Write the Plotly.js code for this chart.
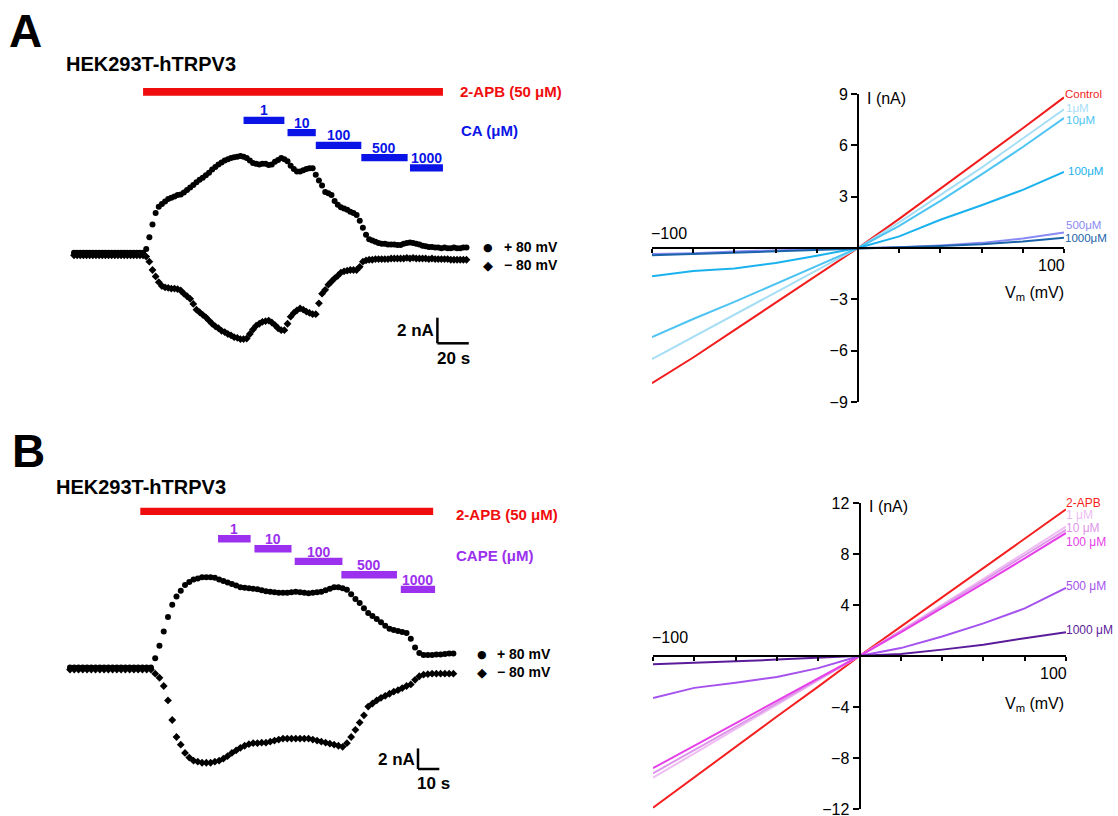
<!DOCTYPE html>
<html><head><meta charset="utf-8">
<script src="https://cdn.plot.ly/plotly-3.0.1.min.js"></script>
<style>body{margin:0;background:#fff}</style>
</head><body>
<div id="chart" style="width:1118px;height:816px"></div>
<script>
// ---------------- DATA ----------------
// Panel A time course (2 s per sample), current in nA
const a_pos80 = [0.1,0.1,0.1,0.1,0.1,0.1,0.1,0.1,0.1,0.1,0.1,0.1,0.1,0.1,0.1,0.1,0.1,0.1,0.1,0.1,0.1,0.1,
 0.1,0.4,1.3,2.3,3.2,3.7,3.9,4.1,4.3,4.4,4.5,4.6,4.65,4.8,5.0,5.2,5.4,5.6,5.8,5.95,6.15,6.35,6.6,6.8,7.0,7.15,7.3,7.4,
 7.5,7.55,7.6,7.65,7.6,7.5,7.3,7.1,7.05,7.0,7.05,7.05,6.95,7.0,7.2,7.35,7.5,7.4,7.25,6.9,6.65,6.45,6.45,6.55,6.65,6.7,6.7,
 6.2,5.75,5.35,4.85,4.75,4.6,4.15,3.85,3.65,3.55,3.45,3.3,3.2,3.05,2.6,2.05,1.5,1.15,1.05,0.95,0.85,0.8,0.8,0.75,0.75,0.75,
 0.7,0.7,0.8,0.85,0.9,0.85,0.8,0.75,0.65,0.6,0.55,0.55,0.5,0.5,0.45,0.5,0.45,0.45,0.5,0.45,0.45,0.5,0.5];
const a_neg80 = [-0.1,-0.1,-0.1,-0.1,-0.1,-0.1,-0.1,-0.1,-0.1,-0.1,-0.1,-0.1,-0.1,-0.1,-0.1,-0.1,-0.1,-0.1,-0.1,-0.1,-0.1,-0.1,
 -0.1,-0.2,-0.6,-1.25,-1.75,-2.2,-2.5,-2.6,-2.65,-2.7,-2.7,-2.75,-2.85,-3.1,-3.3,-3.5,-3.9,-4.35,-4.55,-4.75,-4.95,-5.2,-5.45,
 -5.65,-5.8,-6.0,-6.1,-6.25,-6.35,-6.5,-6.55,-6.65,-6.65,-6.6,-6.25,-5.9,-5.6,-5.45,-5.3,-5.25,-5.2,-5.35,-5.55,-5.8,-5.95,
 -5.95,-5.45,-4.9,-4.6,-4.4,-4.25,-4.35,-4.5,-4.6,-4.7,-4.7,-3.85,-3.1,-2.8,-2.4,-2.15,-1.9,-1.7,-1.45,-1.35,-1.3,-1.25,
 -1.25,-1.25,-1.0,-0.6,-0.5,-0.45,-0.45,-0.4,-0.4,-0.4,-0.4,-0.4,-0.35,-0.35,-0.35,-0.35,
 -0.35,-0.3,-0.35,-0.3,-0.35,-0.35,-0.35,-0.35,-0.4,-0.35,-0.4,-0.4,-0.4,-0.4,-0.4,-0.45,-0.45,-0.45,-0.45,-0.45,-0.45];
// Panel B time course (2 s per sample)
const b_pos80 = [0.1,0.1,0.1,0.1,0.1,0.1,0.1,0.1,0.1,0.1,0.1,0.1,0.1,0.1,0.1,0.1,0.1,0.1,0.1,0.1,
 1.0,2.2,3.6,5.0,6.2,7.0,7.55,8.1,8.4,8.65,8.75,8.85,8.85,8.85,8.8,8.65,8.5,8.35,8.2,8.05,
 7.9,7.85,7.8,7.75,7.7,7.6,7.5,7.45,7.4,7.35,7.35,7.35,7.4,7.45,7.4,7.35,7.3,7.35,7.4,7.45,
 7.6,7.75,7.9,7.9,7.8,7.65,7.2,6.75,6.35,5.85,5.4,5.1,4.8,4.5,4.15,3.85,3.75,3.65,3.55,3.45,
 2.9,2.05,1.5,1.3,1.3,1.3,1.35,1.35,1.4,1.45,1.45];
const b_neg80 = [-0.1,-0.1,-0.1,-0.1,-0.1,-0.1,-0.1,-0.1,-0.1,-0.1,-0.1,-0.1,-0.1,-0.1,-0.1,-0.1,-0.1,-0.1,-0.1,-0.1,
 -0.5,-0.9,-1.7,-3.1,-5.0,-6.65,-7.4,-8.2,-8.65,-8.95,-9.05,-9.15,-9.15,-9.15,-9.05,-8.95,-8.75,-8.5,-8.2,-7.95,
 -7.7,-7.5,-7.35,-7.25,-7.25,-7.2,-7.2,-7.1,-7.0,-6.9,-6.8,-6.8,-6.8,-6.8,-6.8,-6.8,-6.8,-6.9,-7.0,-7.1,
 -7.2,-7.3,-7.4,-7.5,-7.6,-7.25,-6.65,-5.95,-5.25,-4.55,-3.7,-3.4,-3.1,-2.85,-2.65,-2.45,-2.25,-2.1,-1.9,-1.7,
 -1.55,-1.1,-0.75,-0.6,-0.55,-0.5,-0.5,-0.5,-0.5,-0.5,-0.5];
const sampleStep = 2; // s

// Drug applications (s)
const apbA = [44, 235];
const caConc = ['1','10','100','500','1000'];
const caStart = [108, 136, 154, 183, 214];
const caEnd   = [134, 154, 183, 212.5, 235];
const apbB = [33, 170.5];
const capeConc = ['1','10','100','500','1000'];
const capeStart = [69.5, 86.6, 105.5, 127.4, 155.3];
const capeEnd   = [84.8, 104, 127.9, 153.5, 171.4];
const scaleA = [2, 20]; // nA, s
const scaleB = [2, 10];

// I-V curves
const vm = [-100,-80,-60,-40,-20,0,20,40,60,80,100];
const ivNamesA = ['Control','1μM','10μM','100μM','500μM','1000μM'];
const ivA = [
 [-7.9,-6.4,-4.8,-3.2,-1.6,0,1.7,3.45,5.2,7.0,8.8],
 [-6.5,-5.2,-3.9,-2.6,-1.3,0,1.5,3.1,4.7,6.4,8.1],
 [-5.2,-4.15,-3.15,-2.1,-1.05,0,1.3,2.75,4.3,5.9,7.6],
 [-1.65,-1.35,-1.2,-0.88,-0.45,0,0.68,1.65,2.5,3.4,4.45],
 [-0.35,-0.3,-0.2,-0.12,-0.05,0,0.05,0.15,0.3,0.55,0.9],
 [-0.43,-0.35,-0.25,-0.15,-0.08,0,0.05,0.12,0.22,0.38,0.6]];
const ivNamesB = ['2-APB','1 μM','10 μM','100 μM','500 μM','1000 μM'];
const ivB = [
 [-11.9,-9.5,-7.1,-4.75,-2.4,0,2.3,4.6,6.9,9.2,11.5],
 [-9.55,-7.65,-5.75,-3.85,-1.9,0,2.0,4.0,6.05,8.1,10.15],
 [-9.2,-7.4,-5.55,-3.7,-1.85,0,1.95,3.9,5.9,7.9,9.9],
 [-8.8,-7.05,-5.3,-3.5,-1.75,0,1.85,3.75,5.7,7.65,9.65],
 [-3.3,-2.5,-2.1,-1.65,-0.95,0,0.62,1.53,2.56,3.73,5.35],
 [-0.65,-0.55,-0.42,-0.28,-0.15,0,0.15,0.5,0.88,1.4,1.87]];

// ---------------- STYLE / LAYOUT ----------------
const W=1118, H=816;
const FONT='Liberation Sans, Arial, Helvetica, sans-serif';
const X=p=>p/W, Y=p=>1-p/H;
const colA=['#f21c1c','#a6def6','#4dc4f2','#1ab2ee','#8a8af5','#1c64aa'];
const colB=['#f51f1f','#eebcf2','#de96ea','#e641e8','#a552ee','#5b1b9a'];
const RED='#f00d0d', BLUE='#0a14e6', PURPLE='#9b30ee';

const mapA={ox:74, oy:254, sx:1.57, sy:12.8, box:[30,620,40,420]};
const mapB={ox:70, oy:668.5, sx:2.13, sy:10.3, box:[30,620,440,800]};
const tOf=(m,px)=>(px-m.ox)/m.sx, iOf=(m,py)=>(m.oy-py)/m.sy;
function leftAx(m){
  return [{domain:[X(m.box[0]),X(m.box[1])], range:[tOf(m,m.box[0]),tOf(m,m.box[1])], visible:false, fixedrange:true},
          {domain:[Y(m.box[3]),Y(m.box[2])], range:[iOf(m,m.box[3]),iOf(m,m.box[2])], visible:false, fixedrange:true}];
}
function ivAx(box, yr, ytv){
  const zeroPy = box[2] + (yr[1]/(yr[1]-yr[0]))*(box[3]-box[2]);
  const zeroPx = box[0] + 0.5*(box[1]-box[0]);
  const common={showline:true, linewidth:2, linecolor:'#000', ticks:'outside', tickwidth:2, tickcolor:'#000',
    showgrid:false, zeroline:false, fixedrange:true, ticklabeloverflow:'allow', tickfont:{family:FONT,size:16,color:'#000'}};
  return [Object.assign({}, common, {domain:[X(box[0]),X(box[1])], range:[-100,100], anchor:'free', position:Y(zeroPy),
            tickvals:vm, ticklen:4, showticklabels:false}),
          Object.assign({}, common, {domain:[Y(box[3]),Y(box[2])], range:yr, anchor:'free', position:X(zeroPx),
            tickvals:ytv, ticklen:6, side:'left'})];
}
const [xa3, ya3] = leftAx(mapA);
const [xa4, ya4] = leftAx(mapB);
xa3.anchor='y3'; ya3.anchor='x3'; xa4.anchor='y4'; ya4.anchor='x4';
const [xa1, ya1] = ivAx([652,1064,94,402],[-9,9],[-9,-6,-3,3,6,9]);
const [xa2, ya2] = ivAx([653,1066,503,809],[-12,12],[-12,-8,-4,4,8,12]);

const traces=[];
function tc(vals, sym, size, xa, ya){
  traces.push({type:'scatter', mode:'markers', x0:0, dx:sampleStep, y:vals, xaxis:xa, yaxis:ya,
    marker:{symbol:sym, size:size, color:'#000', line:{width:0}}, hoverinfo:'skip', cliponaxis:false});
}
tc(a_pos80,'circle',6,'x3','y3'); tc(a_neg80,'diamond',6,'x3','y3');
tc(b_pos80,'circle',6,'x4','y4'); tc(b_neg80,'diamond',6,'x4','y4');
ivA.forEach((s,i)=>traces.push({type:'scatter',mode:'lines',x:vm,y:s,xaxis:'x',yaxis:'y',name:ivNamesA[i],
  line:{color:colA[i],width:2}}));
ivB.forEach((s,i)=>traces.push({type:'scatter',mode:'lines',x:vm,y:s,xaxis:'x2',yaxis:'y2',name:ivNamesB[i],
  line:{color:colB[i],width:2}}));

const shapes=[], anns=[];
function ann(text, px, py, size, color, xanchor, extra){
  anns.push(Object.assign({xref:'paper', yref:'paper', x:X(px), y:Y(py), text:text, showarrow:false,
    xanchor:xanchor||'left', yanchor:'middle', font:{family:FONT, size:size, color:color||'#000'}, borderpad:0, borderwidth:0}, extra||{}));
}
function bar(xa, t0, t1, top, bot, color){
  shapes.push({type:'rect', xref:xa, yref:'paper', x0:t0, x1:t1, y0:Y(bot), y1:Y(top), fillcolor:color, line:{width:0}, layer:'above'});
}
// Panel A left
bar('x3', apbA[0], apbA[1], 88, 95.7, RED);
const caTop=[116.7,129,141.7,154,164.2];
caConc.forEach((c,i)=>{ bar('x3', caStart[i], caEnd[i], caTop[i], caTop[i]+7.2, BLUE);
  anns.push({xref:'x3', yref:'paper', x:(caStart[i]+caEnd[i])/2, y:Y(caTop[i]-6.5), text:'<b>'+c+'</b>', showarrow:false,
    xanchor:'center', yanchor:'middle', font:{family:FONT,size:14,color:BLUE}, borderpad:0, borderwidth:0}); });
// Panel B left
bar('x4', apbB[0], apbB[1], 507.7, 515, RED);
const capeTop=[535,545,557.7,571,585.7];
capeConc.forEach((c,i)=>{ bar('x4', capeStart[i], capeEnd[i], capeTop[i], capeTop[i]+7.4, PURPLE);
  anns.push({xref:'x4', yref:'paper', x:(capeStart[i]+capeEnd[i])/2, y:Y(capeTop[i]-6), text:'<b>'+c+'</b>', showarrow:false,
    xanchor:'center', yanchor:'middle', font:{family:FONT,size:14,color:PURPLE}, borderpad:0, borderwidth:0}); });

// scale bars
function scaleBar(xa, ya, m, cx, cy, sc){
  const t0=tOf(m,cx), i0=iOf(m,cy);
  shapes.push({type:'line', xref:xa, yref:ya, x0:t0, x1:t0, y0:i0, y1:i0+sc[0], line:{color:'#000',width:2.5}});
  shapes.push({type:'line', xref:xa, yref:ya, x0:t0, x1:t0+sc[1], y0:i0, y1:i0, line:{color:'#000',width:2.5}});
}
scaleBar('x3','y3',mapA,437.4,343.3,scaleA);
scaleBar('x4','y4',mapB,418,769,scaleB);

const GL={family:'DejaVu Sans',size:11,color:'#000'}, GD={family:'DejaVu Sans',size:13,color:'#000'};
// texts left
ann('<b>A</b>', 9, 31, 46);
ann('<b>HEK293T-hTRPV3</b>', 66, 64, 20);
ann('<b>2-APB (50 μM)</b>', 460, 91, 15, RED);
ann('<b>CA (μM)</b>', 461, 130, 15, BLUE);
ann('●', 488, 247, 11, '#000', 'center', {font:GL});
ann('◆', 488, 265.5, 13, '#000', 'center', {font:GD});
ann('<b>+ 80 mV</b>', 504, 247, 14);
ann('<b>− 80 mV</b>', 504, 264.5, 14);
ann('<b>'+scaleA[0]+' nA</b>', 434, 330, 17, '#000', 'right');
ann('<b>'+scaleA[1]+' s</b>', 453, 358, 17, '#000', 'center');

ann('<b>B</b>', 12, 451, 46);
ann('<b>HEK293T-hTRPV3</b>', 56, 487, 20);
ann('<b>2-APB (50 μM)</b>', 455.5, 514, 15, RED);
ann('<b>CAPE (μM)</b>', 456, 555, 15, PURPLE);
ann('●', 482, 654.3, 11, '#000', 'center', {font:GL});
ann('◆', 482, 672.3, 13, '#000', 'center', {font:GD});
ann('<b>+ 80 mV</b>', 497, 654, 14);
ann('<b>− 80 mV</b>', 497, 672, 14);
ann('<b>'+scaleB[0]+' nA</b>', 415, 759.5, 17, '#000', 'right');
ann('<b>'+scaleB[1]+' s</b>', 433, 783, 17, '#000', 'center');

// IV texts
ann('I (nA)', 867, 98, 16);
ann('−100', 651, 233, 16);
ann('100', 1065, 266, 16, '#000', 'right');
ann('V<sub>m</sub> (mV)', 1064, 293, 16, '#000', 'right');
const labYA=[94,108,120,171,225,238], labXA=[1065,1066,1066,1068,1066,1065];
ivNamesA.forEach((n,i)=>ann(n, labXA[i], labYA[i], 11.5, colA[i]));
ann('I (nA)', 869, 506, 16);
ann('−100', 652, 637, 16);
ann('100', 1067, 673, 16, '#000', 'right');
ann('V<sub>m</sub> (mV)', 1064, 704, 16, '#000', 'right');
const labYB=[503,514.5,528,542,586,630];
ivNamesB.forEach((n,i)=>ann(n, 1066, labYB[i], 12, colB[i]));

const layout={width:W, height:H, margin:{l:0,r:0,t:0,b:0}, paper_bgcolor:'#fff', plot_bgcolor:'rgba(0,0,0,0)',
  showlegend:false, font:{family:FONT},
  xaxis:xa1, yaxis:ya1, xaxis2:xa2, yaxis2:ya2, xaxis3:xa3, yaxis3:ya3, xaxis4:xa4, yaxis4:ya4,
  shapes:shapes, annotations:anns};
Plotly.newPlot('chart', traces, layout, {staticPlot:true, displayModeBar:false});
</script>
</body></html>
